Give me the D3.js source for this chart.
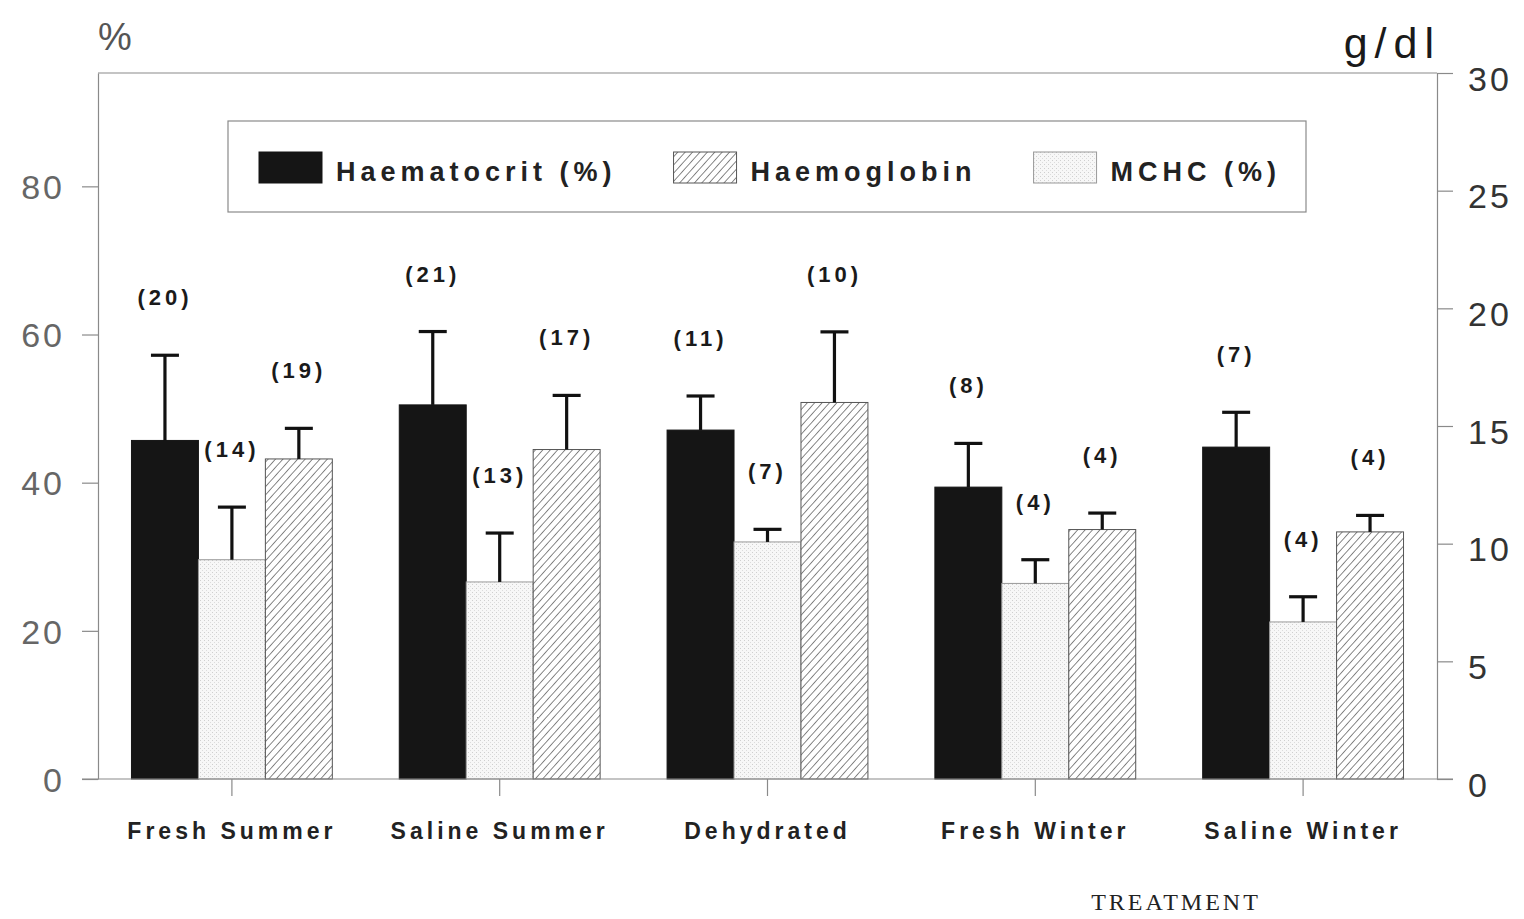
<!DOCTYPE html>
<html>
<head>
<meta charset="utf-8">
<script src="https://cdn.jsdelivr.net/npm/d3@7"></script>
<style>
  html, body { margin: 0; padding: 0; background: #fff; }
  svg { display: block; }
</style>
</head>
<body>
<svg id="chart" width="1524" height="919"></svg>
<script>
// Blood values per treatment group
const categories = ["Fresh Summer", "Saline Summer", "Dehydrated", "Fresh Winter", "Saline Winter"];

const haematocrit    = [45.7, 50.5, 47.1, 39.4, 44.8];   // %
const haematocritErr = [11.5,  9.9,  4.6,  5.9,  4.7];
const haematocritN   = [20, 21, 11, 8, 7];

const mchc    = [29.6, 26.6, 32.0, 26.4, 21.2];          // %
const mchcErr = [ 7.1,  6.6,  1.7,  3.2,  3.4];
const mchcN   = [14, 13, 7, 4, 4];

const haemoglobin    = [13.6, 14.0, 16.0, 10.6, 10.5];   // g/dl
const haemoglobinErr = [ 1.3,  2.3,  3.0,  0.7,  0.7];
const haemoglobinN   = [19, 17, 10, 4, 4];

const leftTicks  = [0, 20, 40, 60, 80];
const rightTicks = [0, 5, 10, 15, 20, 25, 30];

const svg = d3.select("#chart");
const M = { left: 98, right: 1437, top: 73, bottom: 779 };

// ----- patterns -----
const defs = svg.append("defs");
const hatch = defs.append("pattern")
  .attr("id", "hatch").attr("patternUnits", "userSpaceOnUse")
  .attr("width", 5.5).attr("height", 5.5)
  .attr("patternTransform", "rotate(-48)");
hatch.append("rect").attr("width", 5.5).attr("height", 5.5).attr("fill", "#fff");
hatch.append("line").attr("x1", 0).attr("y1", 0).attr("x2", 5.5).attr("y2", 0)
  .attr("stroke", "#555").attr("stroke-width", 1.4);

const stipple = defs.append("pattern")
  .attr("id", "stipple").attr("patternUnits", "userSpaceOnUse")
  .attr("width", 4).attr("height", 4);
stipple.append("rect").attr("width", 4).attr("height", 4).attr("fill", "#f7f7f7");
stipple.append("rect").attr("x", 0).attr("y", 0).attr("width", 1).attr("height", 1).attr("fill", "#cfcfcf");
stipple.append("rect").attr("x", 2).attr("y", 2).attr("width", 1).attr("height", 1).attr("fill", "#dcdcdc");

// ----- scales -----
const x = d3.scaleBand().domain(categories)
  .range([M.left, M.right]).paddingInner(0.25).paddingOuter(0.125);
const yL = d3.scaleLinear().domain([0, 95.3]).range([M.bottom, M.top]);
const yR = d3.scaleLinear().domain([0, 30]).range([M.bottom, M.top]);

const series = [
  { name: "Haematocrit (%)", values: haematocrit, err: haematocritErr, n: haematocritN, y: yL, fill: "#151515", stroke: "#151515" },
  { name: "MCHC (%)",        values: mchc,        err: mchcErr,        n: mchcN,        y: yL, fill: "url(#stipple)", stroke: "#999" },
  { name: "Haemoglobin",     values: haemoglobin, err: haemoglobinErr, n: haemoglobinN, y: yR, fill: "url(#hatch)", stroke: "#555" }
];
const legendOrder = [series[0], series[2], series[1]];

const sub = d3.scaleBand().domain(d3.range(series.length)).range([0, x.bandwidth()]);

// ----- frame -----
const frame = svg.append("g").attr("stroke", "#8a8a8a").attr("stroke-width", 1.2).attr("fill", "none");
frame.append("line").attr("x1", M.left).attr("x2", M.right).attr("y1", M.top).attr("y2", M.top);

// ----- bars -----
series.forEach((s, si) => {
  const g = svg.append("g");
  g.selectAll("rect").data(s.values).join("rect")
    .attr("x", (d, i) => x(categories[i]) + sub(si))
    .attr("y", d => s.y(d))
    .attr("width", sub.bandwidth())
    .attr("height", d => s.y(0) - s.y(d))
    .attr("fill", s.fill)
    .attr("stroke", s.stroke)
    .attr("stroke-width", 1);

  // error whiskers (upper only) and group sizes
  const cx = i => x(categories[i]) + sub(si) + sub.bandwidth() / 2;
  const w = svg.append("g").attr("stroke", "#111").attr("stroke-width", 3.2);
  s.values.forEach((v, i) => {
    const top = s.y(v + s.err[i]);
    w.append("line").attr("x1", cx(i)).attr("x2", cx(i)).attr("y1", s.y(v)).attr("y2", top);
    w.append("line").attr("x1", cx(i) - 14).attr("x2", cx(i) + 14).attr("y1", top).attr("y2", top);
    svg.append("text")
      .attr("x", cx(i)).attr("y", top - 50)
      .attr("text-anchor", "middle")
      .attr("font-family", "Liberation Sans, Arial, sans-serif")
      .attr("font-weight", "bold").attr("font-size", 22)
      .attr("letter-spacing", 4)
      .attr("fill", "#1a1a1a")
      .text("(" + s.n[i] + ")");
  });
});

// ----- axes -----
const axisStyle = g => {
  g.selectAll("path.domain").attr("stroke", "#8a8a8a").attr("stroke-width", 1.2);
  g.selectAll(".tick line").attr("stroke", "#8a8a8a").attr("stroke-width", 1.2);
};

svg.append("g").attr("transform", `translate(${M.left},0)`)
  .call(d3.axisLeft(yL).tickValues(leftTicks).tickSize(16).tickSizeOuter(0).tickPadding(17))
  .call(axisStyle)
  .call(g => g.selectAll("text")
    .attr("font-family", "Liberation Sans, Arial, sans-serif")
    .attr("font-size", 34).attr("letter-spacing", 3).attr("fill", "#666").attr("dy", "0.36em"));

svg.append("g").attr("transform", `translate(${M.right},0)`)
  .call(d3.axisRight(yR).tickValues(rightTicks).tickSize(16).tickSizeOuter(0).tickPadding(15))
  .call(axisStyle)
  .call(g => g.selectAll("text")
    .attr("font-family", "Liberation Sans, Arial, sans-serif")
    .attr("font-size", 34).attr("letter-spacing", 3).attr("fill", "#333").attr("dy", "0.5em"));

svg.append("g").attr("transform", `translate(0,${M.bottom})`)
  .call(d3.axisBottom(x).tickSize(17).tickSizeOuter(0).tickPadding(27))
  .call(axisStyle)
  .call(g => g.select("path.domain").remove())
  .call(g => g.selectAll("text")
    .attr("font-family", "Liberation Sans, Arial, sans-serif")
    .attr("font-weight", "bold")
    .attr("font-size", 23).attr("letter-spacing", 4).attr("fill", "#222"));

// baseline spanning the plot and the zero ticks on both sides
svg.append("line").attr("x1", M.left - 16).attr("x2", M.right + 16)
  .attr("y1", yL(0)).attr("y2", yL(0)).attr("stroke", "#8a8a8a").attr("stroke-width", 1.2);

// ----- unit labels -----
svg.append("text").attr("x", M.left).attr("y", 50)
  .attr("font-family", "Liberation Sans, Arial, sans-serif")
  .attr("font-size", 38).attr("fill", "#555").text("%");
svg.append("text").attr("x", M.right + 4).attr("y", 58).attr("text-anchor", "end")
  .attr("font-family", "Liberation Sans, Arial, sans-serif")
  .attr("font-size", 43).attr("letter-spacing", 7).attr("fill", "#1a1a1a").text("g/dl");

svg.append("text").attr("x", 1176).attr("y", 910).attr("text-anchor", "middle")
  .attr("font-family", "Liberation Serif, Times New Roman, serif")
  .attr("font-size", 24).attr("letter-spacing", 3).attr("fill", "#222").text("TREATMENT");

// ----- legend -----
const lg = svg.append("g");
lg.append("rect").attr("x", 228).attr("y", 121).attr("width", 1078).attr("height", 91)
  .attr("fill", "#fff").attr("stroke", "#8a8a8a").attr("stroke-width", 1.2);
let lx = 259;
legendOrder.forEach(s => {
  lg.append("rect").attr("x", lx).attr("y", 152).attr("width", 63).attr("height", 31)
    .attr("fill", s.fill).attr("stroke", s.stroke).attr("stroke-width", 1);
  const t = lg.append("text").attr("x", lx + 77).attr("y", 181)
    .attr("font-family", "Liberation Sans, Arial, sans-serif")
    .attr("font-weight", "bold")
    .attr("font-size", 27).attr("letter-spacing", 5).attr("fill", "#222")
    .text(s.name);
  lx += 77 + t.node().getComputedTextLength() + 57;
});
</script>
</body>
</html>
